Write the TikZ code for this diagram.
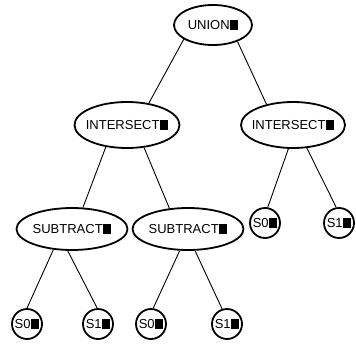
\documentclass[tikz,border=0pt]{standalone}
\usepackage{fontspec}
\setmainfont{Liberation Sans}
\usetikzlibrary{shapes.geometric}
\newcommand\tofu{\kern0.6pt\rule[0pt]{8pt}{10pt}}
\tikzset{
  opnode/.style={draw, ellipse, line width=1.8pt, inner sep=0pt,
    font=\fontsize{13pt}{13pt}\selectfont},
  leafnode/.style={draw, circle, line width=1.8pt, inner sep=0pt,
    minimum size=30pt, font=\fontsize{13pt}{13pt}\selectfont},
  link/.style={line width=0.9pt}
}
\newcommand\lbl[1]{\makebox[0pt][c]{#1\tofu}}
\begin{document}
\begin{tikzpicture}[x=1pt,y=-1pt]
\fill[white] (0,0) rectangle (356,343);
\useasboundingbox (0,0) rectangle (356,343);
\node[opnode, minimum width=78pt, minimum height=40pt] (U) at (213,25) {\lbl{UNION}};
\node[opnode, minimum width=105pt, minimum height=46pt] (IL) at (127,125) {\lbl{INTERSECT}};
\node[opnode, minimum width=104pt, minimum height=46pt] (IR) at (293,125) {\lbl{INTERSECT}};
\node[opnode, minimum width=111pt, minimum height=42pt] (SL) at (72,229) {\lbl{SUBTRACT}};
\node[opnode, minimum width=111pt, minimum height=42pt] (SR) at (188,229) {\lbl{SUBTRACT}};
\node[leafnode] (R0) at (265,223) {\lbl{S0}};
\node[leafnode] (R1) at (339,223) {\lbl{S1}};
\node[leafnode] (B0) at (27,324) {\lbl{S0}};
\node[leafnode] (B1) at (98,324) {\lbl{S1}};
\node[leafnode] (B2) at (151,324) {\lbl{S0}};
\node[leafnode] (B3) at (227,324) {\lbl{S1}};
\draw[link] (U.206) -- (IL.45);
\draw[link] (U.326) -- (IR.142);
\draw[link] (IL.226) -- (SL.63);
\draw[link] (IL.307) -- (SR.132);
\draw[link] (IR.259) -- (R0.80);
\draw[link] (IR.301) -- (R1.100);
\draw[link] (SL.228) -- (B0.90);
\draw[link] (SL.259) -- (B1.93);
\draw[link] (SR.249) -- (B2.82);
\draw[link] (SR.288) -- (B3.108);
\end{tikzpicture}
\end{document}
